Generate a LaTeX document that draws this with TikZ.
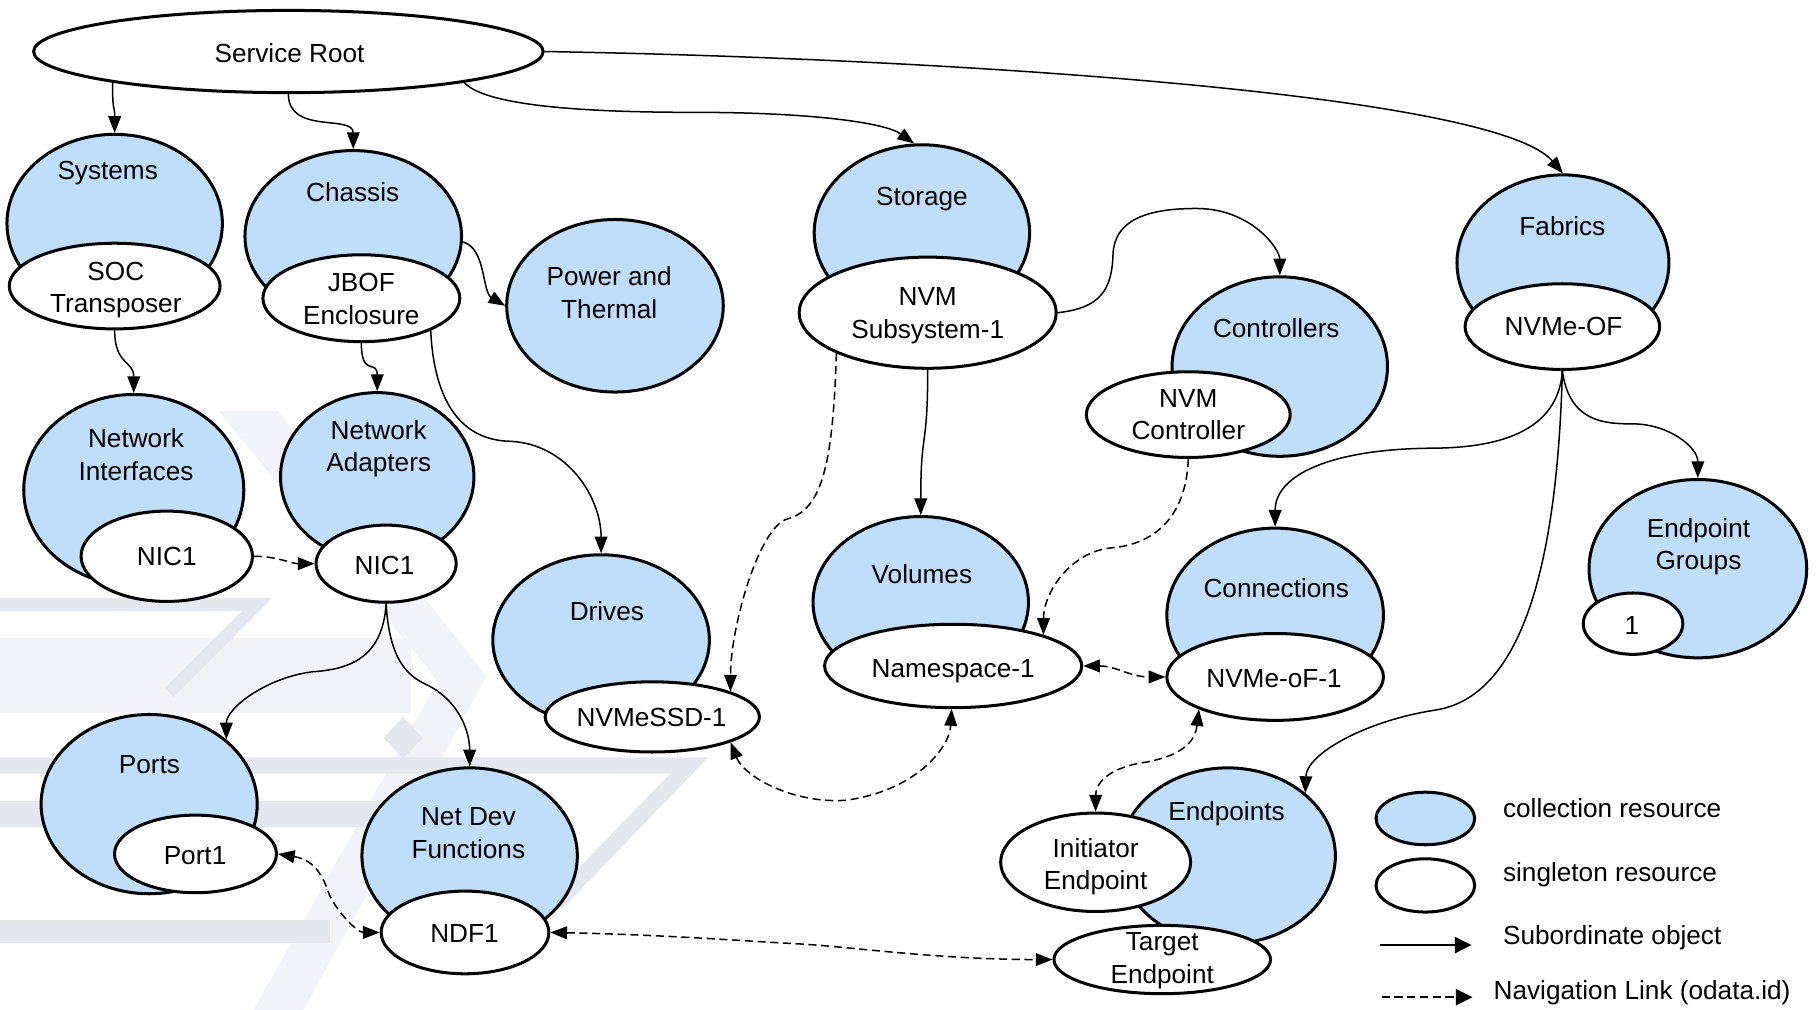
\documentclass[tikz,border=0pt]{standalone}
\usepackage{fontspec}
\setmainfont{Liberation Sans}
\usetikzlibrary{arrows.meta,shapes.geometric}
\definecolor{collblue}{RGB}{191,222,252}
\definecolor{wml}{RGB}{242,243,248}
\definecolor{wmd}{RGB}{228,231,240}
\begin{document}
\begin{tikzpicture}[x=0.5pt,y=-0.5pt,
  coll/.style={ellipse,draw,fill=collblue,line width=1.3pt,inner sep=0pt},
  sing/.style={ellipse,draw,fill=white,line width=1.3pt,inner sep=0pt},
  lbl/.style={inner sep=0pt,align=center,font=\fontsize{11.3}{14}\selectfont,yshift=-1.25pt},
  legtxt/.style={lbl,anchor=west,align=left},
  sub/.style={line width=0.65pt,-{Triangle[length=7.2pt,width=5.5pt]}},
  nav/.style={line width=0.65pt,dash pattern=on 3.5pt off 2pt,-{Triangle[length=7.2pt,width=5.5pt]}},
  navb/.style={line width=0.65pt,dash pattern=on 3.5pt off 2pt,{Triangle[length=7.2pt,width=5.5pt]}-{Triangle[length=7.2pt,width=5.5pt]}},
  legarr/.style={line width=0.8pt,-{Triangle[length=7.2pt,width=7pt]}}
]
\useasboundingbox (0,0) rectangle (1568,872);
\fill[white] (0,0) rectangle (1568,872);

% watermark
\fill[wml] (189,355) -- (240,355) -- (420,584) -- (262,872) -- (219,872) -- (378,588) -- cycle;
\fill[wml] (0,551) rectangle (355,616);
\draw[wmd,line width=5.5pt,line join=miter] (0,522) -- (222,522) -- (146,598);
\draw[wmd,line width=7pt,line join=miter] (0,661) -- (595,661) -- (480,780);
\fill[wmd] (0,692) rectangle (470,714);
\fill[wmd] (0,794) rectangle (285,814);
\fill[wmd] (348,619) -- (365,637) -- (348,655) -- (331,637) -- cycle;

% collection resources
\node[sing, minimum width=220pt, minimum height=35.5pt] (sr) at (249,44.5) {};
\node[coll, minimum width=93pt, minimum height=77pt] (sys) at (99,193) {};
\node[coll, minimum width=93.5pt, minimum height=74pt] (cha) at (305,204) {};
\node[coll, minimum width=93.5pt, minimum height=74.5pt] (pwr) at (531,264) {};
\node[coll, minimum width=93pt, minimum height=76pt] (sto) at (796,201) {};
\node[coll, minimum width=93pt, minimum height=77.5pt] (ctl) at (1105,316.5) {};
\node[coll, minimum width=91.5pt, minimum height=76pt] (fab) at (1349.5,227) {};
\node[coll, minimum width=95pt, minimum height=82.4pt] (ni) at (115.5,423) {};
\node[coll, minimum width=83.5pt, minimum height=72.6pt] (na) at (325.7,411.6) {};
\node[coll, minimum width=93.5pt, minimum height=73.6pt] (drv) at (519,552.6) {};
\node[coll, minimum width=93pt, minimum height=74pt] (vol) at (795,520) {};
\node[coll, minimum width=93.5pt, minimum height=75pt] (con) at (1101,531) {};
\node[coll, minimum width=94pt, minimum height=77pt] (epg) at (1466,491) {};
\node[coll, minimum width=93pt, minimum height=76pt] (ep) at (1060,739) {};
\node[coll, minimum width=93.3pt, minimum height=77.4pt] (prt) at (128.8,694.3) {};
\node[coll, minimum width=93pt, minimum height=76pt] (ndf) at (405.5,739) {};
\node[coll, minimum width=42.6pt, minimum height=22.7pt] (leg1) at (1230.7,706.7) {};

% singleton resources
\node[sing, minimum width=91pt, minimum height=37pt] (soc) at (99,247) {};
\node[sing, minimum width=85pt, minimum height=37.5pt] (jbof) at (312,257.5) {};
\node[sing, minimum width=111pt, minimum height=48pt] (nvms) at (801,270) {};
\node[sing, minimum width=88pt, minimum height=37pt] (nvmc) at (1026,358) {};
\node[sing, minimum width=84pt, minimum height=37pt] (nvmeof) at (1349,282) {};
\node[sing, minimum width=74pt, minimum height=39pt] (nic1l) at (144,480.3) {};
\node[sing, minimum width=60.5pt, minimum height=33.3pt] (nic1r) at (333.4,486.7) {};
\node[sing, minimum width=92.5pt, minimum height=30.3pt] (ssd) at (563.2,619) {};
\node[sing, minimum width=111pt, minimum height=36pt] (ns) at (823,575) {};
\node[sing, minimum width=93.5pt, minimum height=37.5pt] (nof) at (1101,584.5) {};
\node[sing, minimum width=43pt, minimum height=26.5pt] (one) at (1410,538.5) {};
\node[sing, minimum width=82pt, minimum height=42.5pt] (ini) at (946,744.5) {};
\node[sing, minimum width=93.5pt, minimum height=29.5pt] (tgt) at (1003.5,828.5) {};
\node[sing, minimum width=69.9pt, minimum height=33.5pt] (p1) at (168.8,737.3) {};
\node[sing, minimum width=72.4pt, minimum height=35.7pt] (ndf1) at (401.5,805.1) {};
\node[sing, minimum width=42.6pt, minimum height=23pt] (leg2) at (1230.7,764.5) {};

% labels
\node[lbl] (t-sr) at (250,46) {\strut Service Root};
\node[lbl] (t-sys) at (93,147) {\strut Systems};
\node[lbl] (t-soc) at (100,248) {\strut SOC\\\strut Transposer};
\node[lbl] (t-cha) at (304.5,166) {\strut Chassis};
\node[lbl] (t-jbof) at (312,258) {\strut JBOF\\\strut Enclosure};
\node[lbl] (t-pwr) at (526,252.5) {\strut Power and\\\strut Thermal};
\node[lbl] (t-sto) at (796,169) {\strut Storage};
\node[lbl] (t-nvms) at (801,270) {\strut NVM\\\strut Subsystem-1};
\node[lbl] (t-ctl) at (1102,283.5) {\strut Controllers};
\node[lbl] (t-nvmc) at (1026,357.5) {\strut NVM\\\strut Controller};
\node[lbl] (t-fab) at (1349,195) {\strut Fabrics};
\node[lbl] (t-nvmeof) at (1350,282) {\strut NVMe-OF};
\node[lbl] (t-ni) at (117.5,392.5) {\strut Network\\\strut Interfaces};
\node[lbl] (t-na) at (327,385) {\strut Network\\\strut Adapters};
\node[lbl] (t-nic1l) at (144,480.6) {\strut NIC1};
\node[lbl] (t-nic1r) at (332,488) {\strut NIC1};
\node[lbl] (t-drv) at (524,528) {\strut Drives};
\node[lbl] (t-ssd) at (562.6,619.3) {\strut NVMeSSD-1};
\node[lbl] (t-vol) at (796,496) {\strut Volumes};
\node[lbl] (t-ns) at (823,576.5) {\strut Namespace-1};
\node[lbl] (t-con) at (1102,508) {\strut Connections};
\node[lbl] (t-nof) at (1100,585.7) {\strut NVMe-oF-1};
\node[lbl] (t-epg) at (1466.5,470) {\strut Endpoint\\\strut Groups};
\node[lbl] (t-one) at (1409,539.6) {\strut 1};
\node[lbl] (t-ep) at (1059,700) {\strut Endpoints};
\node[lbl] (t-ini) at (946,746) {\strut Initiator\\\strut Endpoint};
\node[lbl] (t-tgt) at (1003.5,826.7) {\strut Target\\\strut Endpoint};
\node[lbl] (t-prt) at (129,659.6) {\strut Ports};
\node[lbl] (t-p1) at (168.4,738.2) {\strut Port1};
\node[lbl] (t-ndf) at (404.4,718.8) {\strut Net Dev\\\strut Functions};
\node[lbl] (t-ndf1) at (401,806) {\strut NDF1};

% legend texts
\node[legtxt] (l-coll) at (1297.4,697.9) {\strut collection resource};
\node[legtxt] (l-sing) at (1297.4,752.6) {\strut singleton resource};
\node[legtxt] (l-sub) at (1297.4,807.3) {\strut Subordinate object};
\node[legtxt] (l-nav) at (1289.3,854.8) {\strut Navigation Link (odata.id)};

% subordinate connectors
\draw[sub] (sr.190) .. controls +(0,28) and +(0,-25) .. (sys.north);
\draw[sub] (sr.south) .. controls +(0,35) and +(0,-30) .. (cha.north);
\draw[sub] (sr.350) .. controls +(20,22) and +(-80,0) .. (600,97) .. controls +(100,0) and +(-25,-18) .. (sto.95);
\draw[sub] (sr.east) .. controls +(330,5.5) and +(-60,-70) .. (fab.north);
\draw[sub] (cha.357) .. controls +(20,5) and +(-20,-12) .. (pwr.west);
\draw[sub] (soc.south) .. controls +(0,30) and +(0,-28) .. (ni.north);
\draw[sub] (jbof.south) .. controls +(0,30) and +(0,-28) .. (na.north);
\draw[sub] (jbof.335) .. controls +(3,64) and +(-40,-1) .. (440,381) .. controls +(50,2) and +(0,-48) .. (drv.north);
\draw[sub] (nvms.east) .. controls +(37,-4) and +(-1,30) .. (961,220) .. controls +(1,-30) and +(-43,0) .. (1033,180) .. controls +(47,0) and +(0,-23) .. (ctl.north);
\draw[sub] (nvms.south) .. controls +(0,70) and +(0,-75) .. (vol.north);
\draw[sub] (nvmeof.south) .. controls +(-4,59) and +(46,0) .. (1234,387) .. controls +(-84,1) and +(0,-45) .. (con.north);
\draw[sub] (nvmeof.south) .. controls +(6,44) and +(-25,0) .. (1410,366) .. controls +(30,0) and +(0,-27) .. (epg.north);
\draw[sub] (nvmeof.south) .. controls +(-4,149) and +(80,-13) .. (1240,613) .. controls +(-60,9) and +(1,-34) .. (ep.39);
\draw[sub] (nic1r.south) .. controls +(-3,48) and +(30,-2) .. (270,580) .. controls +(-40,5) and +(0,-27) .. (prt.40);
\draw[sub] (nic1r.south) .. controls +(3,53) and +(-15,-7) .. (370,592) .. controls +(25,13) and +(0,-32) .. (ndf.north);

% navigation links
\draw[nav] (nic1l.east) .. controls +(20,0) and +(-20,0) .. (nic1r.west);
\draw[nav] (nvms.204) .. controls +(-3,95) and +(30,-8) .. (680,448) .. controls +(-25,7) and +(0,-55) .. (ssd.18);
\draw[navb] (ssd.342) .. controls +(12,30) and +(-45,3) .. (730,691) .. controls +(60,-8) and +(-2,34) .. (ns.268);
\draw[nav] (nvmc.south) .. controls +(-2,52) and +(35,-3) .. (960,473) .. controls +(-35,3) and +(0,-37) .. (ns.19);
\draw[navb] (ns.east) .. controls +(28,0) and +(-30,0) .. (nof.west);
\draw[navb] (nof.203) .. controls +(-4,34) and +(20,-4) .. (990,658) .. controls +(-30,4) and +(0,-26) .. (ini.north);
\draw[navb] (ndf1.east) .. controls +(100,2) and +(-40,-2) .. (690,815) .. controls +(40,2) and +(-100,0) .. (tgt.west);
\draw[navb] (p1.east) .. controls +(30,5) and +(-5,-15) .. (283,769) .. controls +(5,15) and +(-20,0) .. (ndf1.west);

% legend arrows
\coordinate (ls1) at (1191.5,816);
\coordinate (ls2) at (1270.6,816);
\coordinate (ln1) at (1193,861);
\coordinate (ln2) at (1271.4,861);
\draw[legarr] (ls1) -- (ls2);
\draw[legarr,dash pattern=on 3.5pt off 2pt] (ln1) -- (ln2);
\end{tikzpicture}
\end{document}
